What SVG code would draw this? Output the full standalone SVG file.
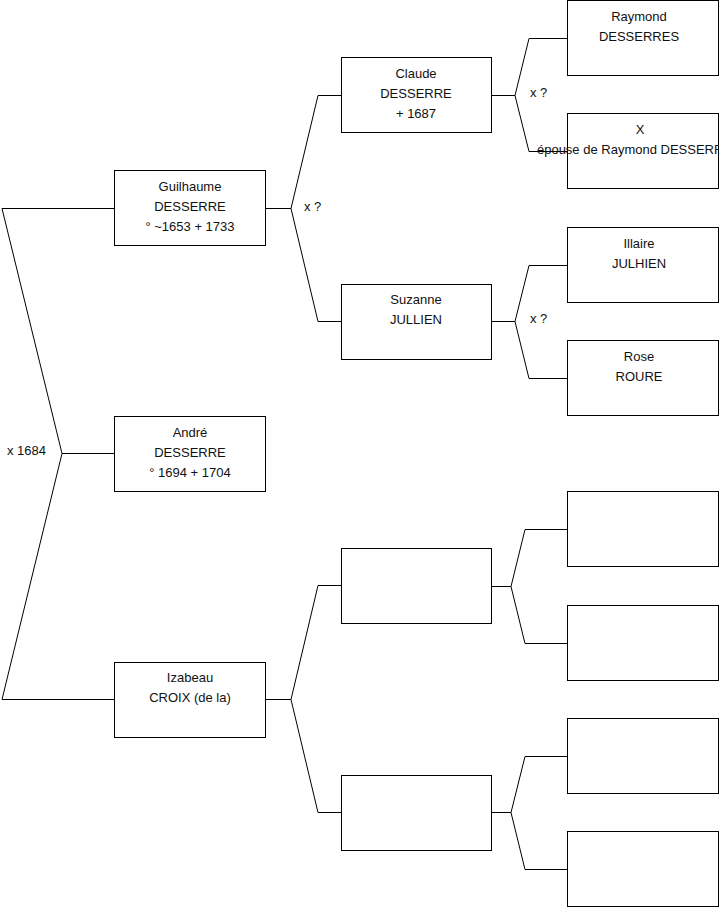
<svg xmlns="http://www.w3.org/2000/svg" width="719" height="908" viewBox="0 0 719 908">
<style>
.box{fill:#fff;stroke:#000;stroke-width:1}
.ln{fill:none;stroke:#000;stroke-width:1}
text{font-family:"Liberation Sans",Arial,sans-serif;font-size:13px;fill:#111}
.c{text-anchor:middle}
</style>
<rect width="719" height="908" fill="#fff"/>
<g id="connectors">
<polyline class="ln" points="114,208.5 2,208.5 62,453.5 2,699.5 114,699.5"/>
<line class="ln" x1="62" y1="453.5" x2="114" y2="453.5"/>
<polyline class="ln" points="341,95.5 318,95.5 291,208.5 318,321.5 341,321.5"/>
<line class="ln" x1="265" y1="208.5" x2="291" y2="208.5"/>
<polyline class="ln" points="341,585.5 318,585.5 291,699.5 318,812.5 341,812.5"/>
<line class="ln" x1="265" y1="699.5" x2="291" y2="699.5"/>
<polyline class="ln" points="567,38.5 529,38.5 515,95.5 529,151.5 567,151.5"/>
<line class="ln" x1="492" y1="95.5" x2="515" y2="95.5"/>
<polyline class="ln" points="567,265.5 529,265.5 515,321.5 529,378.5 567,378.5"/>
<line class="ln" x1="492" y1="321.5" x2="515" y2="321.5"/>
<polyline class="ln" points="567,529.5 525,529.5 511,586.5 525,643.5 567,643.5"/>
<line class="ln" x1="492" y1="586.5" x2="511" y2="586.5"/>
<polyline class="ln" points="567,756.5 525,756.5 511,812.5 525,869.5 567,869.5"/>
<line class="ln" x1="492" y1="812.5" x2="511" y2="812.5"/>
<text x="7" y="455">x 1684</text>
<text x="304" y="211">x ?</text>
<text x="530" y="97">x ?</text>
<text x="530" y="323">x ?</text>
</g>
<g id="guilhaume">
<rect class="box" x="114.5" y="170.5" width="151" height="75"/>
<text class="c" x="190" y="191">Guilhaume</text>
<text class="c" x="190" y="211">DESSERRE</text>
<text class="c" x="190" y="231">° ~1653 + 1733</text>
</g>
<g id="andre">
<rect class="box" x="114.5" y="416.5" width="151" height="75"/>
<text class="c" x="190" y="437">André</text>
<text class="c" x="190" y="457">DESSERRE</text>
<text class="c" x="190" y="477">° 1694 + 1704</text>
</g>
<g id="izabeau">
<rect class="box" x="114.5" y="662.5" width="151" height="75"/>
<text class="c" x="190" y="682">Izabeau</text>
<text class="c" x="190" y="702">CROIX (de la)</text>
</g>
<g id="claude">
<rect class="box" x="341.5" y="57.5" width="150" height="75"/>
<text class="c" x="416" y="78">Claude</text>
<text class="c" x="416" y="98">DESSERRE</text>
<text class="c" x="416" y="118">+ 1687</text>
</g>
<g id="suzanne">
<rect class="box" x="341.5" y="284.5" width="150" height="75"/>
<text class="c" x="416" y="304">Suzanne</text>
<text class="c" x="416" y="324">JULLIEN</text>
</g>
<g id="gen2-c">
<rect class="box" x="341.5" y="548.5" width="150" height="75"/>
</g>
<g id="gen2-d">
<rect class="box" x="341.5" y="775.5" width="150" height="75"/>
</g>
<g id="raymond">
<rect class="box" x="567.5" y="0.5" width="151" height="75"/>
<text class="c" x="639" y="21">Raymond</text>
<text class="c" x="639" y="41">DESSERRES</text>
</g>
<g id="x-epouse">
<rect class="box" x="567.5" y="113.5" width="151" height="75"/>
<text class="c" x="640" y="134">X</text>
<text class="c" x="634.5" y="154">épouse de Raymond DESSERRE</text>
</g>
<g id="illaire">
<rect class="box" x="567.5" y="227.5" width="151" height="75"/>
<text class="c" x="639" y="248">Illaire</text>
<text class="c" x="639" y="268">JULHIEN</text>
</g>
<g id="rose">
<rect class="box" x="567.5" y="340.5" width="151" height="75"/>
<text class="c" x="639" y="361">Rose</text>
<text class="c" x="639" y="381">ROURE</text>
</g>
<g id="gen3-e">
<rect class="box" x="567.5" y="491.5" width="151" height="75"/>
</g>
<g id="gen3-f">
<rect class="box" x="567.5" y="605.5" width="151" height="75"/>
</g>
<g id="gen3-g">
<rect class="box" x="567.5" y="718.5" width="151" height="75"/>
</g>
<g id="gen3-h">
<rect class="box" x="567.5" y="831.5" width="151" height="75"/>
</g>
</svg>
